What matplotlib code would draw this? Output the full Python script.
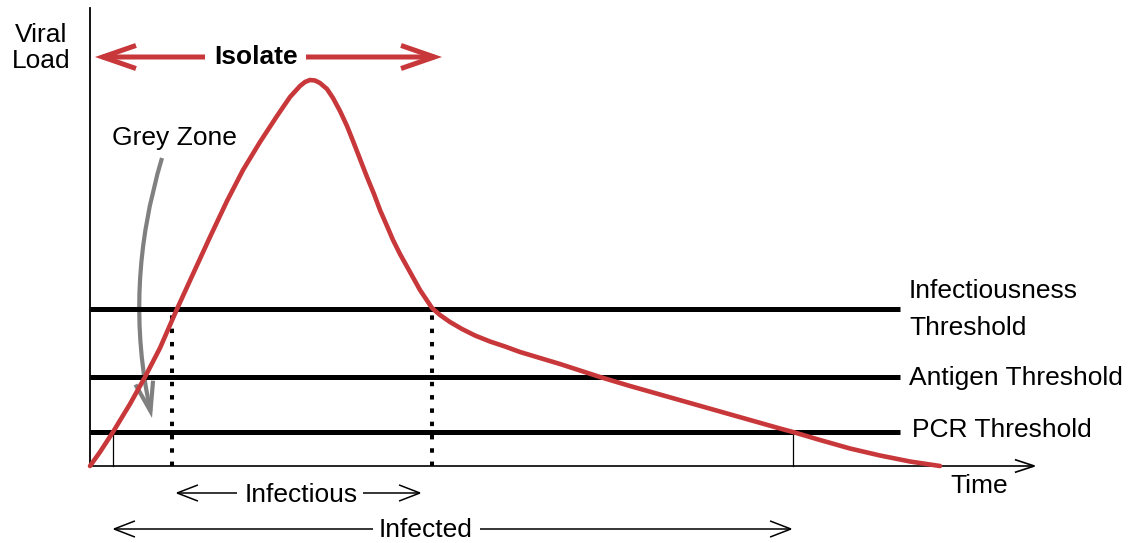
import matplotlib
matplotlib.use("Agg")
import matplotlib.pyplot as plt
from matplotlib.patches import FancyArrowPatch

plt.rcParams['font.family'] = ['Liberation Sans', 'DejaVu Sans']

# viral load curve (time, load in arbitrary units)
time = [0.0, 1.0, 2.3, 4.0, 5.5, 7.0, 8.7, 10.3, 12.0, 13.7, 15.3, 17.0, 18.7,
        20.0, 21.0, 21.5, 22.0, 22.5, 23.0, 23.7, 24.3, 25.0, 25.7, 26.3, 27.0,
        27.7, 28.4, 29.0, 29.7, 30.3, 31.0, 32.0, 33.0, 34.2, 35.0, 36.0, 37.2,
        38.5, 40.0, 41.5, 43.0, 45.0, 47.0, 49.0, 51.0, 54.0, 57.0, 60.0, 63.0,
        66.0, 69.0, 70.3, 73.0, 76.0, 79.0, 82.0, 85.0]
load = [0.0, 1.4, 3.4, 6.2, 8.9, 11.8, 15.7, 19.2, 22.9, 26.5, 29.6, 32.4, 35.0,
        36.9, 38.0, 38.4, 38.6, 38.55, 38.3, 37.7, 36.8, 35.5, 34.0, 32.5, 30.7,
        28.9, 27.2, 25.6, 24.0, 22.6, 21.2, 19.4, 17.6, 15.8, 15.1, 14.4, 13.7,
        13.05, 12.45, 11.95, 11.4, 10.8, 10.2, 9.55, 8.9, 8.0, 7.15, 6.3, 5.45,
        4.6, 3.75, 3.4, 2.6, 1.75, 1.05, 0.45, 0.0]

threshold_names = ['Infectiousness', 'Antigen Threshold', 'PCR Threshold']
threshold_levels = [15.7, 8.9, 3.4]
threshold_end = 81.0

infectious_start, infectious_end = 8.2, 34.2
infected_start, infected_end = 2.3, 70.3

red = '#c8373a'
grey = '#808080'

fig = plt.figure(figsize=(11.31, 5.43), dpi=100)
ax = fig.add_axes([0, 0, 1, 1])
ax.set_xlim(-9, 104.1)
ax.set_ylim(-7.7, 46.6)
ax.axis('off')


def arrow(ax, a, b, color='black', lw=1.1, hl=15, hw=5.8, rad=0.0):
    p = FancyArrowPatch(a, b, arrowstyle=f'->,head_length={hl},head_width={hw}',
                        connectionstyle=f'arc3,rad={rad}', color=color, lw=lw,
                        shrinkA=0, shrinkB=0, mutation_scale=1,
                        capstyle='butt', joinstyle='miter')
    ax.add_patch(p)


# axes
ax.plot([0, 0], [0, 45.8], color='black', lw=1.3)
arrow(ax, (0, 0), (94.7, 0), lw=1.2, hl=14, hw=4.6)

# threshold lines
for lvl in threshold_levels:
    ax.plot([0, threshold_end], [lvl, lvl], color='black', lw=3.6, solid_capstyle='butt')

# dotted infectious window
for t in [infectious_start, infectious_end]:
    ax.plot([t, t], [0, threshold_levels[0] - 0.3], color='black', lw=2.9,
            linestyle=(0, (1.1, 2.2)))

# PCR detection ticks
for t in [infected_start, infected_end]:
    ax.plot([t, t], [0, threshold_levels[2]], color='black', lw=0.9)

# viral load curve
ax.plot(time, load, color=red, lw=3.3, solid_joinstyle='round', solid_capstyle='round')

# labels on the right
ax.text(81.9, 16.8, 'Infectiousness', fontsize=19, va='baseline')
ax.text(81.9, 13.1, 'Threshold', fontsize=19, va='baseline')
ax.text(81.9, 8.1, threshold_names[1], fontsize=19, va='baseline')
ax.text(82.2, 2.9, threshold_names[2], fontsize=19, va='baseline')
ax.text(86.0, -2.7, 'Time', fontsize=19, va='baseline')

ax.text(-4.9, 42.4, 'Viral', fontsize=19, ha='center', va='baseline')
ax.text(-4.9, 39.8, 'Load', fontsize=19, ha='center', va='baseline')

# isolate arrow
ax.text(16.6, 40.2, 'Isolate', fontsize=19, fontweight='bold', ha='center', va='baseline')
arrow(ax, (11.5, 40.9), (0.5, 40.9), color=red, lw=3.6, hl=24, hw=8.3)
arrow(ax, (21.6, 40.9), (35.2, 40.9), color=red, lw=3.6, hl=24, hw=8.3)

# grey zone
ax.text(2.2, 32.1, 'Grey Zone', fontsize=19, va='baseline')
arrow(ax, (7.2, 30.8), (6.2, 4.8), color=grey, lw=3.0, hl=21, hw=6.5, rad=0.13)

# infectious / infected spans
ax.text(21.1, -3.6, 'Infectious', fontsize=19, ha='center', va='baseline')
arrow(ax, (14.7, -2.7), (8.5, -2.7))
arrow(ax, (27.3, -2.7), (33.2, -2.7))

ax.text(33.6, -7.1, 'Infected', fontsize=19, ha='center', va='baseline')
arrow(ax, (28.3, -6.3), (infected_start - 0.1, -6.3))
arrow(ax, (39.0, -6.3), (infected_end, -6.3))

fig.savefig('out.png', dpi=100)
